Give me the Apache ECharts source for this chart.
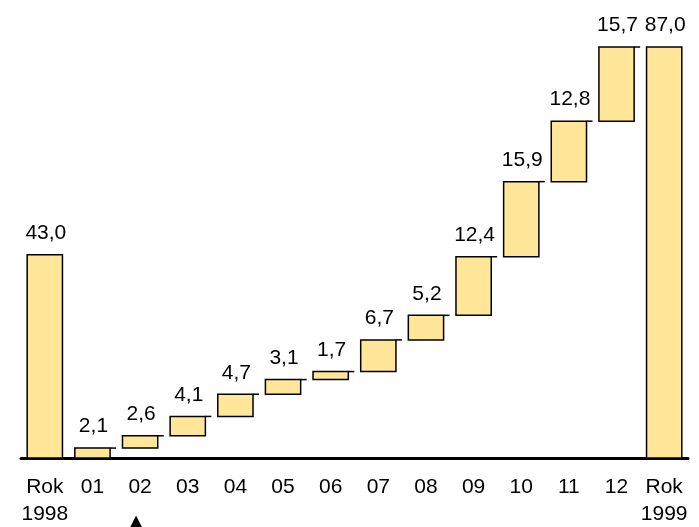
<!DOCTYPE html>
<html>
<head>
<meta charset="utf-8">
<script src="https://cdn.jsdelivr.net/npm/echarts@6/dist/echarts.min.js"></script>
<style>
  html, body { margin: 0; padding: 0; background: #fff; }
  #main { width: 699px; height: 527px; }
</style>
</head>
<body>
<div id="main"></div>
<script>
// categories along the axis
var categories = ['Rok\n1998', '01', '02', '03', '04', '05', '06', '07', '08', '09', '10', '11', '12', 'Rok\n1999'];
// total for the previous year
var startTotal = 43.0;
// monthly increments (stacked from zero)
var monthly = [2.1, 2.6, 4.1, 4.7, 3.1, 1.7, 6.7, 5.2, 12.4, 15.9, 12.8, 15.7];
// total for the year
var endTotal = 87.0;

// build [index, base, value, isMonthly] rows for the waterfall
var rows = [[0, 0, startTotal, 0]];
var running = 0;
monthly.forEach(function (v, i) {
  rows.push([i + 1, running, v, 1]);
  running += v;
});
rows.push([categories.length - 1, 0, endTotal, 0]);

var fmt = function (v) { return v.toFixed(1).replace('.', ','); };

var myChart = echarts.init(document.getElementById('main'));

function renderItem(params, api) {
  var idx = api.value(0);
  var base = api.value(1);
  var val = api.value(2);
  var isMonth = api.value(3) === 1;
  var top = api.coord([idx, base + val]);
  var bottom = api.coord([idx, base]);
  var w = api.size([1, 0])[0] * 0.74;
  var x0 = top[0] - w / 2;
  var children = [
    {
      type: 'rect',
      shape: { x: x0, y: top[1], width: w, height: bottom[1] - top[1] },
      style: { fill: '#FFE699', stroke: '#000', lineWidth: 1.5 }
    },
    {
      type: 'text',
      style: {
        text: fmt(val),
        x: top[0] + 1,
        y: top[1] - 11,
        align: 'center',
        verticalAlign: 'bottom',
        fontSize: 21,
        fontFamily: 'Liberation Sans',
        fill: '#000'
      }
    }
  ];
  if (isMonth) {
    children.push({
      type: 'line',
      shape: { x1: x0 + w, y1: top[1], x2: x0 + w + 6, y2: top[1] },
      style: { stroke: '#000', lineWidth: 1.5 }
    });
  }
  return { type: 'group', children: children };
}

var option = {
  animation: false,
  grid: { left: 21, right: 11, top: 47, bottom: 69, outerBoundsMode: 'none' },
  xAxis: {
    type: 'category',
    data: categories,
    axisTick: { show: false },
    axisLine: { lineStyle: { color: '#000', width: 3 } },
    axisLabel: {
      interval: 0,
      color: '#000',
      fontSize: 21,
      fontFamily: 'Liberation Sans',
      lineHeight: 27,
      margin: 16,
      formatter: function (v, i) {
        return i === 2 ? v + '\n{t|▲}' : v;
      },
      rich: {
        t: { fontSize: 21, color: '#000', padding: [18, 8, 0, 0], fontFamily: 'DejaVu Sans' }
      }
    }
  },
  yAxis: {
    type: 'value',
    min: 0,
    max: 87,
    show: false
  },
  series: [
    {
      type: 'custom',
      renderItem: renderItem,
      encode: { x: 0, y: 2 },
      clip: false,
      data: rows
    }
  ]
};

myChart.setOption(option);
</script>
</body>
</html>
